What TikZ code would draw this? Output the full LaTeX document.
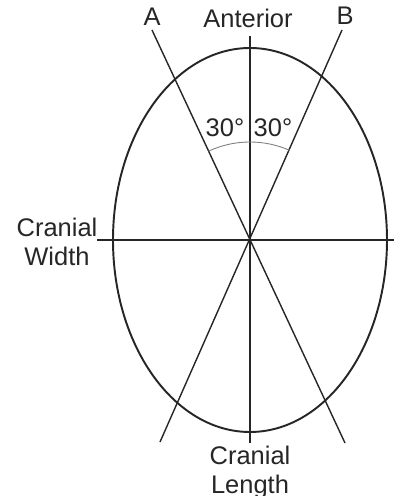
\documentclass[tikz,border=0pt]{standalone}
\usepackage{fontspec}
\setmainfont{Liberation Sans}
\begin{document}
\begin{tikzpicture}[x=0.02cm, y=0.02cm, line width=0.8pt, black!85,
  lbl/.style={font=\fontsize{14.5}{16.5}\selectfont, inner sep=0pt, align=center}]
  \useasboundingbox (-250,-256) rectangle (144,240);
  % O = centre of the skull outline, axes through it
  \coordinate (O) at (0,0);
  \coordinate (Ant) at (0,204);
  \coordinate (Post) at (0,-203);
  \coordinate (L) at (-153,0);
  \coordinate (R) at (144,0);
  % oblique lines A and B
  \coordinate (At) at (-98,210);
  \coordinate (Ab) at (95,-203);
  \coordinate (Bt) at (92,210);
  \coordinate (Bb) at (-90,-202);
  \draw[line width=1.1pt] (O) ellipse (137 and 192);
  \draw (Ant)--(Post);
  \draw (L)--(R);
  \draw (At)--(Ab);
  \draw (Bt)--(Bb);
  % angle arc
  \draw[gray, line width=0.5pt] (O) ++(66:98) arc[start angle=66, end angle=115, radius=98];
  \node[lbl] (a) at (-98,223) {A};
  \node[lbl] (b) at (95,224) {B};
  \node[lbl] (ant) at (-2,222) {Anterior};
  \node[lbl] (ang1) at (-25,112) {30°};
  \node[lbl] (ang2) at (23,112) {30°};
  \node[lbl] (cw) at (-193,-2) {Cranial\\Width};
  \node[lbl] (cl) at (0,-232) {Cranial\\Length};
\end{tikzpicture}
\end{document}
